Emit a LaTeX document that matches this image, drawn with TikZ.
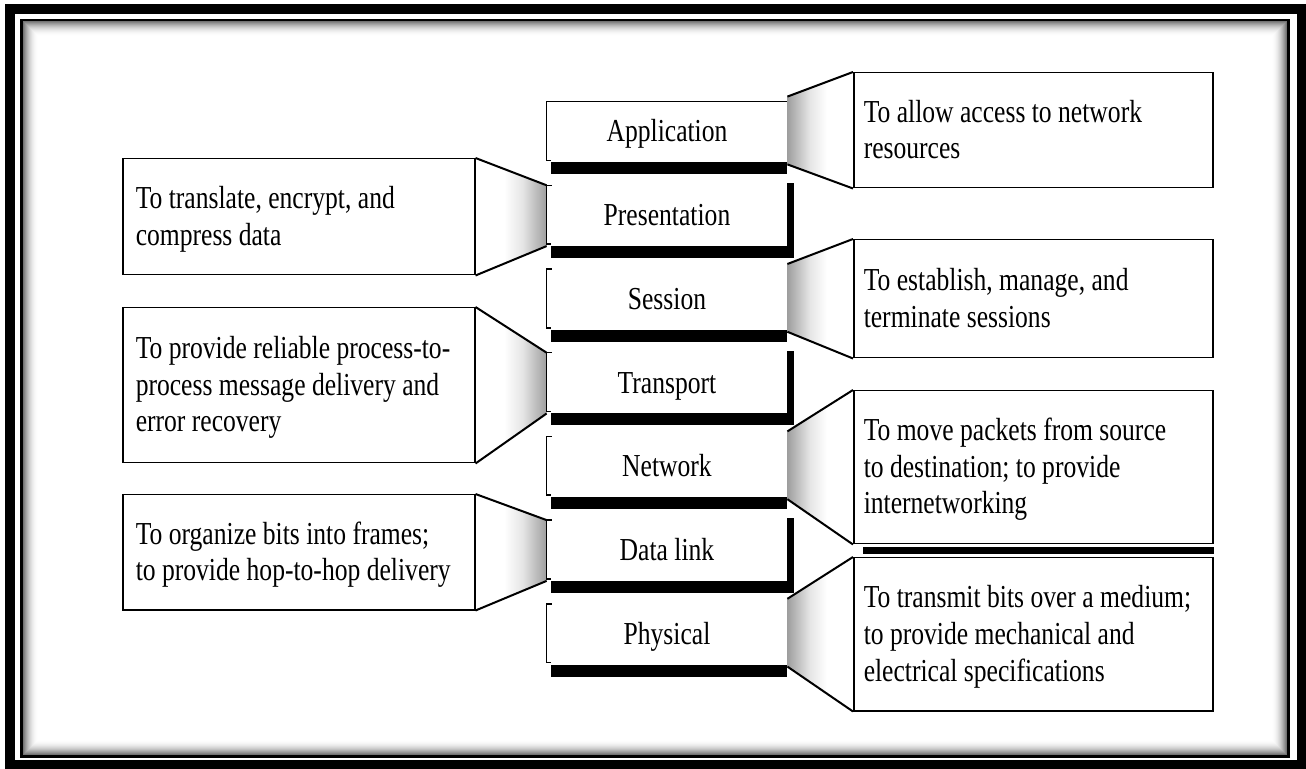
\documentclass[tikz,border=0pt]{standalone}
\usepackage{fontspec}
\setmainfont{Liberation Serif}[FakeStretch=0.8]
\usetikzlibrary{calc}

\pgfdeclarelayer{bg}
\pgfsetlayers{bg,main}

% funnel shadings: dark at the narrow end next to the layer
\pgfdeclarehorizontalshading{fadeL}{100bp}{color(0bp)=(black!90); color(10bp)=(black!70); color(25bp)=(black!38); color(42bp)=(black!10); color(55bp)=(white); color(100bp)=(white)}
\pgfdeclarehorizontalshading{fadeR}{100bp}{color(0bp)=(white); color(45bp)=(white); color(58bp)=(black!10); color(75bp)=(black!38); color(90bp)=(black!70); color(100bp)=(black!90)}

% one unbreakable line of description text, with plain word spacing
\newcommand\tline[1]{\mbox{\spaceskip=3.2pt\xspaceskip=3.2pt\rule[-4pt]{0pt}{18.25pt}#1}}
\newcommand\txtfont{\fontsize{16pt}{18.25pt}\selectfont}

\tikzset{
  layer/.style={minimum width=120pt, minimum height=29pt, inner sep=0pt,
                text height=14pt, text depth=3pt, font=\txtfont},
  descbox/.style={draw, line width=0.75pt, anchor=north west, inner ysep=0pt,
                align=left, font=\txtfont},
  descL/.style={descbox, text width=163pt, inner xsep=6.5pt},
  descR/.style={descbox, text width=169.5pt, inner xsep=5pt},
  edge/.style={line width=0.75pt},
  funnelline/.style={line width=1pt},
}

\begin{document}
\begin{tikzpicture}[x=0.5pt, y=-0.5pt]
\useasboundingbox (0,0) rectangle (1306,769);

% ---- layer stack ----
\node[layer] (app)   at (667,131)   {Application};
\node[layer] (pres)  at (667,214.7) {Presentation};
\node[layer] (sess)  at (667,298.4) {Session};
\node[layer] (trans) at (667,382.1) {Transport};
\node[layer] (net)   at (667,465.8) {Network};
\node[layer] (dl)    at (667,549.5) {Data link};
\node[layer] (phys)  at (667,633.2) {Physical};

% ---- descriptions ----
\node[descR, minimum height=57.5pt] (dApp) at (853,72)
  {\tline{To allow access to network}\\\tline{resources}};
\node[descL, minimum height=58pt] (dPres) at (122,158)
  {\tline{To translate, encrypt, and}\\\tline{compress data}};
\node[descR, minimum height=59pt] (dSess) at (853,239)
  {\tline{To establish, manage, and}\\\tline{terminate sessions}};
\node[descL, minimum height=77.5pt] (dTrans) at (122,307)
  {\tline{To provide reliable process-to-}\\\tline{process message delivery and}\\\tline{error recovery}};
\node[descR, minimum height=76.5pt] (dNet) at (853,390)
  {\tline{To move packets from source}\\\tline{to destination; to provide}\\\tline{internetworking}};
\node[descL, minimum height=57.5pt] (dDL) at (122,494)
  {\tline{To organize bits into frames;}\\\tline{to provide hop-to-hop delivery}};
\node[descR, minimum height=76.5pt] (dPhys) at (853,557)
  {\tline{To transmit bits over a medium;}\\\tline{to provide mechanical and}\\\tline{electrical specifications}};

% ---- page frame and funnel shading (behind) ----
\begin{pgfonlayer}{bg}
  \fill[white] (0,0) rectangle (1306,769);
  \draw[line width=5pt] (10,9) rectangle (1301.5,764.5);
  \draw[line width=1.25pt] (21.5,20) rectangle (1288.5,756.5);
  \foreach \i in {0,...,14}{
    \pgfmathsetmacro\g{55*(1-\i/15)^2}
    \draw[black!\g, line width=0.5pt] (23+\i,22+\i) rectangle (1286.5-\i,754.75-\i);
  }
  \foreach \lyr/\dsc in {app/dApp, sess/dSess, net/dNet, phys/dPhys}{
    \shade[shading=fadeL] ([yshift=2.5pt]\lyr.north east) -- (\dsc.north west)
      -- (\dsc.south west) -- ([yshift=-2pt]\lyr.south east) -- cycle;
  }
  \foreach \lyr/\dsc in {pres/dPres, trans/dTrans, dl/dDL}{
    \shade[shading=fadeR] (\dsc.north east) -- (\lyr.north west)
      -- ([yshift=-1pt]\lyr.south west) -- (\dsc.south east) -- cycle;
  }
\end{pgfonlayer}

% ---- layer outlines and shadows ----
\foreach \n in {app,pres,sess,trans,net,dl,phys}{
  \draw[edge] ([xshift=2.5pt]\n.north west) -- (\n.north west) -- (\n.south west) -- ([xshift=2pt]\n.south west);
  \fill ([xshift=2pt,yshift=-1pt]\n.south west) rectangle ([yshift=-7pt]\n.south east);
}
\draw[edge] (app.north west) -- (app.north east);
\foreach \n in {pres,trans,dl}{
  \fill ([yshift=1pt]\n.north east) rectangle ([xshift=3.5pt,yshift=-7pt]\n.south east);
}

% ---- funnel outlines ----
\foreach \lyr/\dsc in {app/dApp, sess/dSess, net/dNet, phys/dPhys}{
  \draw[funnelline] ([yshift=2.5pt]\lyr.north east) -- (\dsc.north west)
    ([yshift=-2pt]\lyr.south east) -- (\dsc.south west);
}
\foreach \lyr/\dsc in {pres/dPres, trans/dTrans, dl/dDL}{
  \draw[funnelline] (\dsc.north east) -- (\lyr.north west)
    (\dsc.south east) -- ([yshift=-1pt]\lyr.south west);
}

% heavy rule under the network description
\fill ([xshift=5pt,yshift=-1.5pt]dNet.south west) rectangle ([yshift=-5pt]dNet.south east);
\end{tikzpicture}
\end{document}
